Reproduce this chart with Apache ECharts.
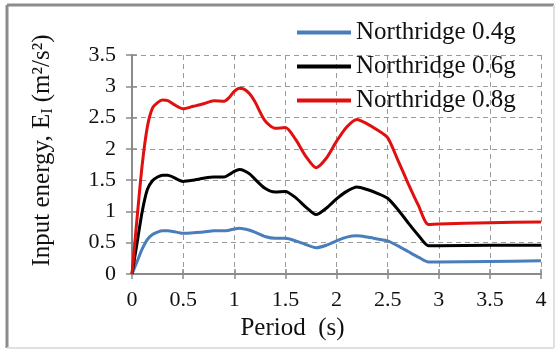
<!DOCTYPE html>
<html>
<head>
<meta charset="utf-8">
<script src="https://cdn.jsdelivr.net/npm/echarts@6/dist/echarts.min.js"></script>
<style>html,body{margin:0;padding:0;background:#fff}#c{width:560px;height:360px}</style>
</head>
<body>
<div id="c"></div>
<script>
var periods = [0,0.05,0.1,0.15,0.2,0.25,0.3,0.35,0.4,0.5,0.6,0.7,0.8,0.9,0.95,1.0,1.05,1.1,1.15,1.2,1.3,1.4,1.5,1.6,1.7,1.8,1.9,2.0,2.1,2.2,2.3,2.4,2.5,2.6,2.7,2.8,2.9,3.0,3.5,4.0];
var north04 = [0,0.2,0.4,0.55,0.63,0.67,0.69,0.69,0.68,0.65,0.66,0.67,0.69,0.69,0.70,0.72,0.73,0.72,0.70,0.67,0.60,0.57,0.57,0.53,0.47,0.42,0.46,0.53,0.59,0.61,0.59,0.56,0.53,0.45,0.36,0.27,0.19,0.19,0.20,0.21];
var north06 = [0,0.5,1.0,1.35,1.49,1.55,1.58,1.58,1.55,1.48,1.50,1.53,1.55,1.55,1.59,1.64,1.67,1.65,1.60,1.52,1.37,1.31,1.32,1.22,1.07,0.95,1.05,1.20,1.32,1.39,1.35,1.29,1.21,1.03,0.82,0.62,0.45,0.45,0.46,0.46];
var north08 = [0,0.9,1.75,2.35,2.65,2.74,2.78,2.77,2.72,2.64,2.68,2.72,2.77,2.76,2.82,2.92,2.97,2.95,2.88,2.76,2.45,2.33,2.34,2.15,1.88,1.70,1.85,2.12,2.35,2.47,2.40,2.30,2.18,1.82,1.45,1.10,0.79,0.80,0.82,0.83];
var seriesNames = ['Northridge 0.4g','Northridge 0.6g','Northridge 0.8g'];
var xTicks = [0,0.5,1,1.5,2,2.5,3,3.5,4];
var yTicks = [0,0.5,1,1.5,2,2.5,3,3.5];

function pairs(v){ return periods.map(function(p,i){ return [p, v[i]]; }); }
var serif = 'Liberation Serif';
var chart = echarts.init(document.getElementById('c'), null, {renderer:'canvas'});
var tickStyle = {color:'#8a8a8a', width:1.5};
var labelStyle = {fontFamily:serif, fontSize:22, color:'#111'};
var gridStyle = {color:'#9a9a9a', type:[5,4], width:1};
chart.setOption({
  backgroundColor:'#fff',
  animation:false,
  grid:{left:132, right:19, top:55, bottom:86},
  legend:{
    orient:'vertical', left:292, top:15, itemWidth:54, itemHeight:4, itemGap:9,
    icon:'rect',
    textStyle:{fontFamily:serif, fontSize:25, color:'#111'},
    data:seriesNames
  },
  xAxis:[
    {type:'value', min:0, max:4, interval:0.5,
      axisLine:{show:true, onZero:false, lineStyle:{color:'#8a8a8a', width:2}},
      axisTick:{show:true, length:5, lineStyle:tickStyle},
      splitLine:{show:true, lineStyle:gridStyle},
      axisLabel:Object.assign({margin:15, formatter:function(v){return String(v);}}, labelStyle),
      name:'Period  (s)', nameLocation:'middle', nameGap:37,
      nameTextStyle:{fontFamily:serif, fontSize:25, color:'#111', padding:[0,88,0,0]}},
    {type:'value', min:0, max:4, interval:0.5, position:'bottom',
      axisLine:{show:false}, axisLabel:{show:false}, splitLine:{show:false},
      axisTick:{show:true, inside:true, length:5, lineStyle:tickStyle}}
  ],
  yAxis:[
    {type:'value', min:0, max:3.5, interval:0.5,
      axisLine:{show:true, onZero:false, lineStyle:{color:'#8a8a8a', width:2}},
      axisTick:{show:true, length:6, lineStyle:tickStyle},
      splitLine:{show:true, lineStyle:gridStyle},
      axisLabel:Object.assign({margin:16}, labelStyle),
      name:'{a|Input energy, E}{s|I}{a| (m²/s²)}', nameLocation:'middle', nameGap:76, nameRotate:90,
      nameTextStyle:{fontFamily:serif, fontSize:25, color:'#111', padding:[0,0,0,28],
        rich:{a:{fontFamily:serif, fontSize:25, color:'#111'},
              s:{fontFamily:serif, fontSize:16, color:'#111', padding:[12,0,0,0]}}}},
    {type:'value', min:0, max:3.5, interval:0.5, position:'left',
      axisLine:{show:false}, axisLabel:{show:false}, splitLine:{show:false},
      axisTick:{show:true, inside:true, length:5, lineStyle:tickStyle}}
  ],
  series:[
    {name:seriesNames[0], type:'line', data:pairs(north04), smooth:0.25, symbol:'none', color:'#4a7ebb', lineStyle:{width:3, color:'#4a7ebb'}},
    {name:seriesNames[1], type:'line', data:pairs(north06), smooth:0.25, symbol:'none', color:'#000', lineStyle:{width:3, color:'#000'}},
    {name:seriesNames[2], type:'line', data:pairs(north08), smooth:0.25, symbol:'none', color:'#e01010', lineStyle:{width:3, color:'#e01010'}}
  ],
  graphic:[
    {type:'line', shape:{x1:7,y1:5,x2:554,y2:5}, style:{stroke:'#8c8c8c', lineWidth:3}, silent:true},
    {type:'line', shape:{x1:7,y1:5,x2:7,y2:348}, style:{stroke:'#8c8c8c', lineWidth:3}, silent:true},
    {type:'line', shape:{x1:7,y1:348,x2:554,y2:348}, style:{stroke:'#e0e0e0', lineWidth:2}, silent:true},
    {type:'line', shape:{x1:554,y1:5,x2:554,y2:348}, style:{stroke:'#e0e0e0', lineWidth:2}, silent:true}
  ]
});
</script>
</body>
</html>
